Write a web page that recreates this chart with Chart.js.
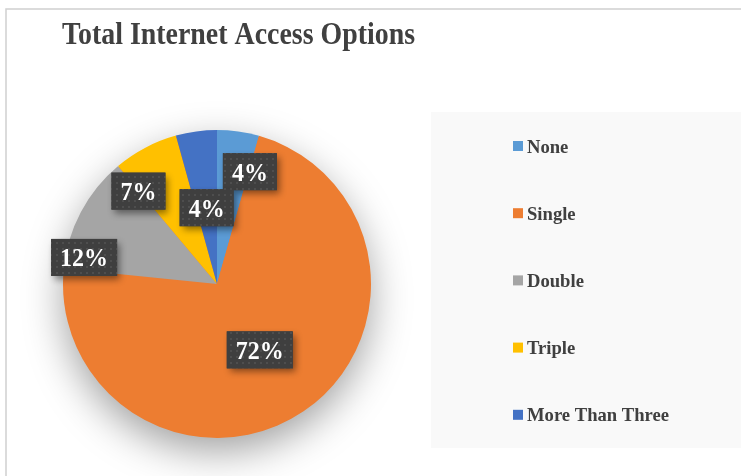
<!DOCTYPE html>
<html>
<head>
<meta charset="utf-8">
<script src="https://cdn.jsdelivr.net/npm/chart.js@4"></script>
<style>
html, body { margin: 0; padding: 0; background: #fff; }
#wrap { width: 741px; height: 476px; position: relative; }
</style>
</head>
<body>
<div id="wrap"><canvas id="pieChart" width="741" height="476"></canvas></div>
<script>
// chart data
const titleText = "Total Internet Access Options";
const categories = ["None", "Single", "Double", "Triple", "More Than Three"];
const shares = [4.4, 72.2, 12.3, 6.8, 4.3];
const sliceColors = ["#5B9BD5", "#ED7D31", "#A5A5A5", "#FFC000", "#4472C4"];

// where each % label sits (fraction of radius, angle nudge in degrees)
const labelRadius = [0.76, 0.51, 0.88, 0.79, 0.5];
const labelAngleShift = [8.4, 1.2, -16.6, -12.5, 0];

const serif = '"Liberation Serif", "Times New Roman", serif';

// dotted texture for the label boxes
let pat = document.createElement("canvas");
pat.width = 6; pat.height = 6;
let pctx = pat.getContext("2d");
pctx.fillStyle = "#3f3f3f";
pctx.fillRect(0, 0, 6, 6);
pctx.fillStyle = "#545454";
pctx.beginPath();
pctx.arc(3, 3, 1, 0, Math.PI * 2);
pctx.fill();

// draws text squeezed to a given width (the original uses a narrow bold serif)
function fitText(c, txt, x, y, width){
let w = c.measureText(txt).width;
c.save();
c.translate(x, y);
c.scale(width / w, 1);
c.fillText(txt, 0, 0);
c.restore();
}

// frame, title and legend panel behind the pie
const backdrop = {
id: "backdrop",
beforeDraw(chart){
const c = chart.ctx;
c.save();
c.strokeStyle = "#d0d0d0";
c.lineWidth = 1.5;
c.strokeRect(6, 9, 800, 600);
c.fillStyle = "#f9f9f9";
c.fillRect(431, 112, 310, 336);
c.fillStyle = "#404040";
c.font = "bold 31px " + serif;
c.textBaseline = "alphabetic";
fitText(c, titleText, 62, 44, 353);
c.restore();
},
beforeDatasetsDraw(chart){
// soft shadow under the whole pie
const arc = chart.getDatasetMeta(0).data[0];
const c = chart.ctx;
c.save();
c.shadowColor = "rgba(0,0,0,0.38)";
c.shadowBlur = 40;
c.shadowOffsetY = 14;
c.fillStyle = "#ED7D31";
c.beginPath();
c.arc(arc.x, arc.y, arc.outerRadius - 1, 0, Math.PI * 2);
c.fill();
c.restore();
}
};

// legend and percentage labels
const overlay = {
id: "overlay",
afterDraw(chart){
const c = chart.ctx;
const meta = chart.getDatasetMeta(0);
const total = shares.reduce((a, b) => a + b, 0);

c.save();
c.font = "bold 19px " + serif;
c.textBaseline = "alphabetic";
categories.forEach((name, i) => {
let y = 146 + i * 67.2;
c.fillStyle = sliceColors[i];
c.fillRect(513, y - 5, 10, 10);
c.fillStyle = "#404040";
let w = c.measureText(name).width * 0.98;
fitText(c, name, 527, y + 6.5, w);
});

c.font = "bold 25px " + serif;
c.textAlign = "center";
meta.data.forEach((arc, i) => {
let mid = (arc.startAngle + arc.endAngle) / 2 + labelAngleShift[i] * Math.PI / 180;
let r = arc.outerRadius * labelRadius[i];
let x = arc.x + Math.cos(mid) * r;
let y = arc.y + Math.sin(mid) * r;
let txt = Math.round(shares[i] / total * 100) + "%";
let tw = c.measureText(txt).width * 0.96;
let w = tw + 18;
let h = 37;

c.save();
c.shadowColor = "rgba(0,0,0,0.45)";
c.shadowBlur = 7;
c.shadowOffsetX = 3;
c.shadowOffsetY = 4;
c.fillStyle = "#3f3f3f";
c.fillRect(x - w / 2, y - h / 2, w, h);
c.restore();
c.fillStyle = c.createPattern(pat, "repeat");
c.fillRect(x - w / 2, y - h / 2, w, h);

c.fillStyle = "#ffffff";
c.textBaseline = "alphabetic";
fitText(c, txt, x, y + 9, tw);
});
c.restore();
}
};

new Chart(document.getElementById("pieChart"), {
type: "pie",
data: {
labels: categories,
datasets: [{
data: shares,
backgroundColor: sliceColors,
borderWidth: 0
}]
},
options: {
responsive: false,
animation: false,
layout: {
padding: { left: 63, right: 370, top: 130, bottom: 38 }
},
plugins: {
legend: { display: false },
title: { display: false },
tooltip: { enabled: false }
}
},
plugins: [backdrop, overlay]
});
</script>
</body>
</html>
